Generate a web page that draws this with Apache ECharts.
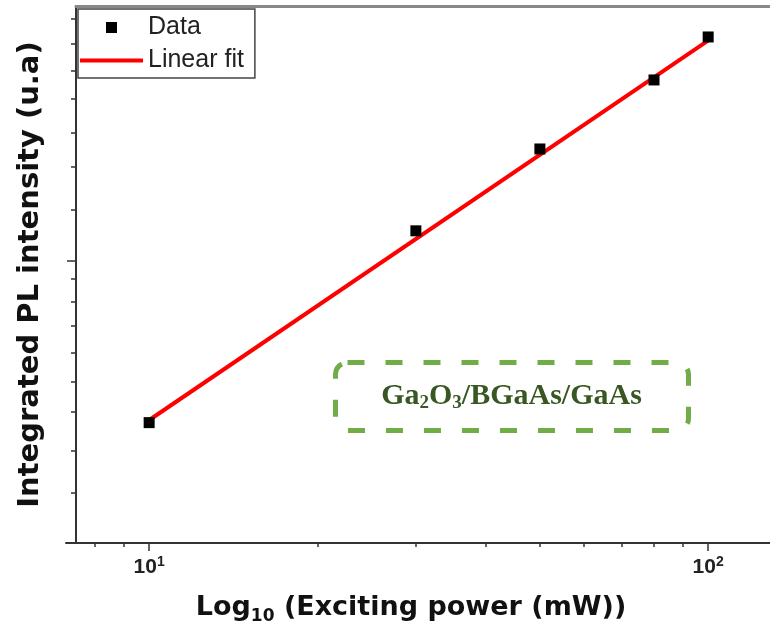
<!DOCTYPE html>
<html><head><meta charset="utf-8">
<script src="https://cdn.jsdelivr.net/npm/echarts@6/dist/echarts.min.js"></script>
<style>html,body{margin:0;padding:0;background:#fff}#c{width:770px;height:640px}</style>
</head><body><div id="c"></div>
<script>
// ---- data ----
const powerMW = [10, 30, 50, 80, 100];
const plIntensity = [394, 1189, 1905, 2835, 3631];
const fitPower = [9.9, 101];
const fitIntensity = [396, 3590];
const xMajorTicks = [10, 100];
const xMinorTicks = [8, 9, 20, 30, 40, 50, 60, 70, 80, 90];
const yMajorTicks = [1000];
const yMinorTicks = [263, 335, 420, 500, 590, 690, 790, 900, 1340, 1720, 2090, 2540, 2990, 3490, 4030];
const xRange = [7.1, 129];
const yRange = [197, 4340];
const xTitle = '{a|Log}{b|10}{a| (Exciting power (mW))}';
const yTitle = 'Integrated PL intensity (u.a)';
const sampleLabel = '{t|Ga}{s|2}{t|O}{s|3}{t|/BGaAs/GaAs}';

const chart = echarts.init(document.getElementById('c'), null, {renderer: 'canvas'});
const axisColor = '#333';
const nameFont = 'DejaVu Sans';

chart.setOption({
  animation: false,
  backgroundColor: '#fff',
  grid: [
    {left: 66, right: 0, top: 6, bottom: 97},
    {left: 76, right: 0, top: 6, height: 10}
  ],
  legend: {
    data: [
      {name: 'Data', icon: 'path://M0,0L10,0L10,10L0,10Z'},
      {name: 'Linear fit', icon: 'path://M0,0L63,0L63,4L0,4Z'}
    ],
    orient: 'vertical', left: 78, top: 9,
    itemWidth: 63, itemHeight: 11, itemGap: 8,
    symbolKeepAspect: true,
    borderColor: '#444', borderWidth: 1.5, padding: [6, 11, 5, 2],
    textStyle: {fontFamily: 'Liberation Sans', fontSize: 25, color: '#222'}
  },
  xAxis: [
    {
      type: 'log', logBase: 10, min: xRange[0], max: xRange[1], gridIndex: 0, position: 'bottom',
      axisLine: {show: true, onZero: false, lineStyle: {color: axisColor, width: 2}},
      axisTick: {show: true, customValues: xMajorTicks, length: 8, lineStyle: {color: axisColor, width: 1.5}},
      axisLabel: {
        show: true, customValues: xMajorTicks, margin: 12,
        formatter: v => '{b|10}{s|' + Math.round(Math.log10(v)) + '}',
        rich: {
          b: {fontFamily: 'Liberation Sans', fontWeight: 'bold', fontSize: 21, lineHeight: 24, color: '#222'},
          s: {fontFamily: 'Liberation Sans', fontWeight: 'bold', fontSize: 14, lineHeight: 14, color: '#222', verticalAlign: 'top'}
        }
      },
      splitLine: {show: false}, minorTick: {show: false},
      name: xTitle, nameLocation: 'middle', nameGap: 48,
      nameTextStyle: {
        padding: [0, 14, 0, 0],
        rich: {
          a: {fontFamily: nameFont, fontWeight: 'bold', fontSize: 27, lineHeight: 34, color: '#111'},
          b: {fontFamily: nameFont, fontWeight: 'bold', fontSize: 17, lineHeight: 14, color: '#111', verticalAlign: 'bottom'}
        }
      }
    },
    {
      type: 'log', logBase: 10, min: xRange[0], max: xRange[1], gridIndex: 0, position: 'bottom',
      axisLine: {show: false, onZero: false},
      axisTick: {show: true, customValues: xMinorTicks, length: 4, lineStyle: {color: axisColor, width: 1.5}},
      axisLabel: {show: false}, splitLine: {show: false}
    },
    {
      type: 'value', gridIndex: 1, position: 'top', min: 0, max: 1,
      axisLine: {show: true, onZero: false, lineStyle: {color: '#888', width: 3}},
      axisTick: {show: false}, axisLabel: {show: false}, splitLine: {show: false}
    }
  ],
  yAxis: [
    {
      type: 'log', logBase: 10, min: yRange[0], max: yRange[1], gridIndex: 0, position: 'left', offset: -10,
      axisLine: {show: true, onZero: false, lineStyle: {color: axisColor, width: 2}},
      axisTick: {show: true, customValues: yMajorTicks, length: 9, lineStyle: {color: axisColor, width: 1.5}},
      axisLabel: {show: false}, splitLine: {show: false},
      name: yTitle, nameLocation: 'middle', nameRotate: 90, nameGap: 31,
      nameTextStyle: {fontFamily: nameFont, fontWeight: 'bold', fontSize: 29, color: '#111'}
    },
    {
      type: 'log', logBase: 10, min: yRange[0], max: yRange[1], gridIndex: 0, position: 'left', offset: -10,
      axisLine: {show: false, onZero: false},
      axisTick: {show: true, customValues: yMinorTicks, length: 5, lineStyle: {color: axisColor, width: 1.5}},
      axisLabel: {show: false}, splitLine: {show: false}
    },
    {
      type: 'value', gridIndex: 1, show: false, min: 0, max: 1
    }
  ],
  series: [
    {
      name: 'Linear fit', type: 'line', xAxisIndex: 0, yAxisIndex: 0,
      data: fitPower.map((x, i) => [x, fitIntensity[i]]),
      showSymbol: false, symbol: 'none',
      lineStyle: {color: '#ff0000', width: 4},
      itemStyle: {color: '#ff0000'}, z: 2
    },
    {
      name: 'Data', type: 'scatter', xAxisIndex: 0, yAxisIndex: 0,
      data: powerMW.map((x, i) => [x, plIntensity[i]]),
      symbol: 'rect', symbolSize: 11,
      itemStyle: {color: '#000', opacity: 1}, z: 3
    }
  ],
  graphic: [{
    type: 'group', left: 333, top: 360,
    children: [
      {type: 'rect', shape: {x: 0, y: 0, width: 353, height: 68, r: 12},
       style: {fill: 'none', stroke: '#70ad47', lineWidth: 5, lineDash: [17, 21]}},
      {type: 'text', x: 176, y: 34,
       style: {
         text: sampleLabel, align: 'center', verticalAlign: 'middle',
         rich: {
           t: {fontFamily: 'Liberation Serif', fontWeight: 'bold', fontSize: 30, lineHeight: 32, fill: '#385723'},
           s: {fontFamily: 'Liberation Serif', fontWeight: 'bold', fontSize: 19, lineHeight: 15, fill: '#385723', verticalAlign: 'bottom'}
         }
       }}
    ]
  }]
});
</script>
</body></html>
